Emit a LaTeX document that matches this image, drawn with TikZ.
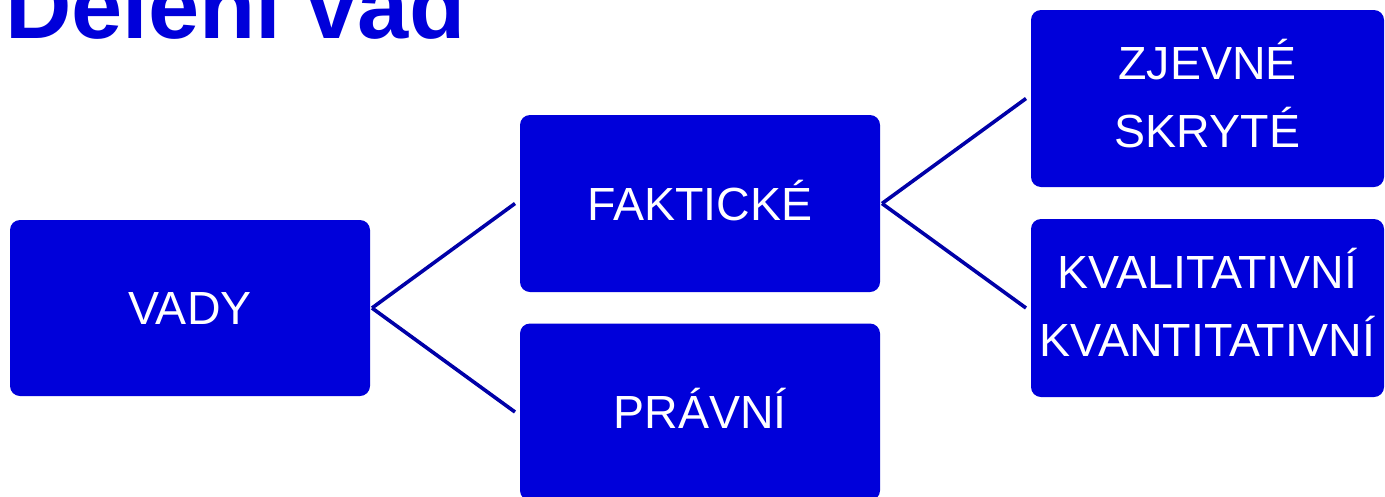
\documentclass[tikz,border=0pt]{standalone}
\usepackage{fontspec}
\setmainfont{Liberation Sans}
\definecolor{boxblue}{RGB}{0,0,218}
\definecolor{lineblue}{RGB}{0,0,168}
\tikzset{
  box/.style={fill=boxblue, rounded corners=10pt, inner sep=0pt, outer sep=0pt,
    text=white, align=center, font=\fontsize{46.5}{68}\selectfont,
    text height=33pt, text depth=0pt},
  twoline/.style={text height=97pt, text depth=0pt},
  conn/.style={draw=lineblue, line width=3.6pt}
}
\begin{document}
\begin{tikzpicture}[x=1pt,y=-1pt]
\clip (0,0) rectangle (1385,496);
\fill[white] (0,0) rectangle (1385,496);
\node[anchor=base west, inner sep=0pt, text=boxblue, font=\fontsize{92}{92}\selectfont\bfseries] (title) at (5,38) {Dělení vad};
\node[box, minimum width=360pt, minimum height=176pt] (vady) at (190,308) {VADY};
\node[box, minimum width=360pt, minimum height=177pt] (fakt) at (700,203.5) {FAKTICKÉ};
\node[box, minimum width=360pt, minimum height=177pt] (prav) at (700,412) {PRÁVNÍ};
\node[box, twoline, minimum width=353pt, minimum height=177pt] (zjev) at (1207.5,98.5) {ZJEVNÉ\\SKRYTÉ};
\node[box, twoline, minimum width=353pt, minimum height=178pt] (kval) at (1207.5,308) {KVALITATIVNÍ\\KVANTITATIVNÍ};
\draw[conn] ([xshift=2pt]vady.east) -- ([xshift=-5pt]fakt.west);
\draw[conn] ([xshift=2pt]vady.east) -- ([xshift=-5pt]prav.west);
\draw[conn] ([xshift=2pt]fakt.east) -- ([xshift=-5pt]zjev.west);
\draw[conn] ([xshift=2pt]fakt.east) -- ([xshift=-5pt]kval.west);
\end{tikzpicture}
\end{document}
